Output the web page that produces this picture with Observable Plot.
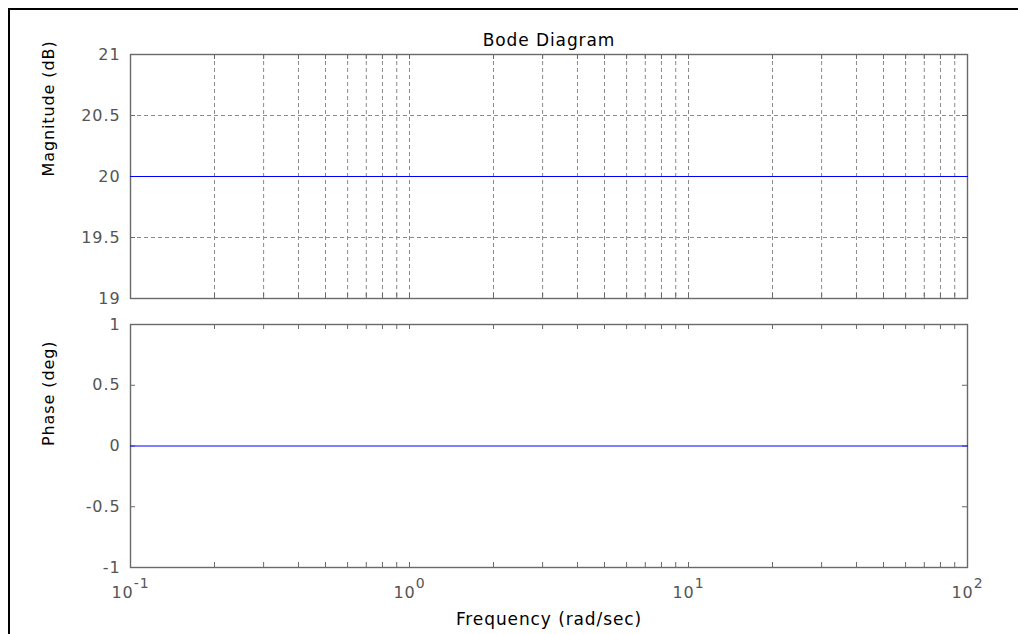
<!DOCTYPE html>
<html><head><meta charset="utf-8">
<script src="https://cdn.jsdelivr.net/npm/d3@7"></script>
<script src="https://cdn.jsdelivr.net/npm/@observablehq/plot@0.6"></script>
<style>
html,body{margin:0;padding:0;background:#fff;overflow:hidden;}
#wrap{position:relative;width:1018px;height:634px;overflow:hidden;background:#fff;}
#btop{position:absolute;left:8px;top:8px;width:1010px;height:2px;background:#000;}
#bleft{position:absolute;left:8px;top:8px;width:2px;height:626px;background:#000;}
#wrap svg{position:absolute;left:0;}
</style></head><body><div id="wrap"><div id="btop"></div><div id="bleft"></div></div>
<script>
// ---- data ----
const title = "Bode Diagram";
const xLabel = "Frequency (rad/sec)";
const magLabel = "Magnitude (dB)";
const phaseLabel = "Phase (deg)";
const freq = [0.1, 100];
const magnitude = [20, 20];
const phase = [0, 0];
const xMajor = [0.1, 1, 10, 100];
const xMajorExp = ["-1", "0", "1", "2"];
const xMinor = [0.2, 0.3, 0.4, 0.5, 0.6, 0.7, 0.8, 0.9, 2, 3, 4, 5, 6, 7, 8, 9, 20, 30, 40, 50, 60, 70, 80, 90];
const xInner = [0.2, 0.3, 0.4, 0.5, 0.6, 0.7, 0.8, 0.9, 1, 2, 3, 4, 5, 6, 7, 8, 9, 10, 20, 30, 40, 50, 60, 70, 80, 90];
const magTicks = [19, 19.5, 20, 20.5, 21];
const magTickLabels = ["19", "19.5", "20", "20.5", "21"];
const magGrid = [19.5, 20, 20.5];
const phaseTicks = [-1, -0.5, 0, 0.5, 1];
const phaseTickLabels = ["-1", "-0.5", "0", "0.5", "1"];

const magData = freq.map((f, i) => ({f, v: magnitude[i]}));
const phaseData = freq.map((f, i) => ({f, v: phase[i]}));
const majorData = xMajor.map((f, i) => ({f, t: "10^" + xMajorExp[i]}));

// ---- style ----
const W = 1018, ML = 130, MR = 51;
const FW = W - ML - MR;
const AX = "#6a6a6a", TXT = "#555", GRID = "#8a8a8a", TICK = 5;
const font = {fontFamily: "'DejaVu Sans', sans-serif", fontSize: "16px", letterSpacing: "0.9px", background: "transparent", overflow: "visible"};
const xScale = {type: "log", domain: [0.1, 100], axis: null};

function ticksMarks(yTicks, FH) {
  return [
    Plot.ruleX(xInner, {insetTop: FH - TICK, stroke: AX}),
    Plot.ruleX(xInner, {insetBottom: FH - TICK, stroke: AX}),
    Plot.ruleY(yTicks, {insetRight: FW - TICK, stroke: AX}),
    Plot.ruleY(yTicks, {insetLeft: FW - TICK, stroke: AX}),
    Plot.frame({stroke: AX, strokeWidth: 1.4})
  ];
}

// ---- magnitude panel ----
const H1 = 310, MT1 = 54, MB1 = 12, FH1 = H1 - MT1 - MB1;
const p1 = Plot.plot({
  width: W, height: H1, marginTop: MT1, marginBottom: MB1, marginLeft: ML, marginRight: MR,
  style: font,
  x: xScale,
  y: {domain: [19, 21], axis: null},
  marks: [
    Plot.ruleX([...xMinor, 1, 10], {stroke: GRID, strokeDasharray: "4,3"}),
    Plot.ruleY(magGrid, {stroke: GRID, strokeDasharray: "4,3"}),
    ...ticksMarks(magTicks, FH1),
    Plot.line(magData, {x: "f", y: "v", stroke: "#0000ff", strokeWidth: 1.2}),
    Plot.text(magTicks, {y: d => d, text: (d, i) => magTickLabels[i], frameAnchor: "left", textAnchor: "end", dx: -10, fill: TXT, fontSize: 16}),
    Plot.text([title], {frameAnchor: "top", dy: -21, fill: "#000", fontSize: 17}),
    Plot.text([magLabel], {frameAnchor: "left", rotate: -90, dx: -82, fill: "#000", fontSize: 16})
  ]
});
p1.style.top = "0px";

// ---- phase panel ----
const H2 = 324, MT2 = 14, MB2 = 67, FH2 = H2 - MT2 - MB2;
const p2 = Plot.plot({
  width: W, height: H2, marginTop: MT2, marginBottom: MB2, marginLeft: ML, marginRight: MR,
  style: font,
  x: xScale,
  y: {domain: [-1, 1], axis: null},
  marks: [
    ...ticksMarks(phaseTicks, FH2),
    Plot.line(phaseData, {x: "f", y: "v", stroke: "#0000ff", strokeWidth: 1.2}),
    Plot.text(phaseTicks, {y: d => d, text: (d, i) => phaseTickLabels[i], frameAnchor: "left", textAnchor: "end", dx: -10, fill: TXT, fontSize: 16}),
    Plot.text(majorData, {x: "f", text: "t", frameAnchor: "bottom", lineAnchor: "top", dy: 19, fill: TXT, fontSize: 16}),
    Plot.text([xLabel], {frameAnchor: "bottom", dy: 57, fill: "#000", fontSize: 17}),
    Plot.text([phaseLabel], {frameAnchor: "left", rotate: -90, dx: -82, fill: "#000", fontSize: 16})
  ]
});
p2.style.top = "310px";

const wrap = document.getElementById("wrap");
wrap.appendChild(p1);
wrap.appendChild(p2);

// superscript exponents on x tick labels
d3.select(p2).selectAll("text").filter(function() { return this.textContent.startsWith("10^"); })
  .each(function() {
    const exp = this.textContent.slice(3);
    const t = d3.select(this);
    t.text("10");
    t.append("tspan").attr("dy", "-10").attr("font-size", "14px").text(exp);
  });
</script>
</body></html>
